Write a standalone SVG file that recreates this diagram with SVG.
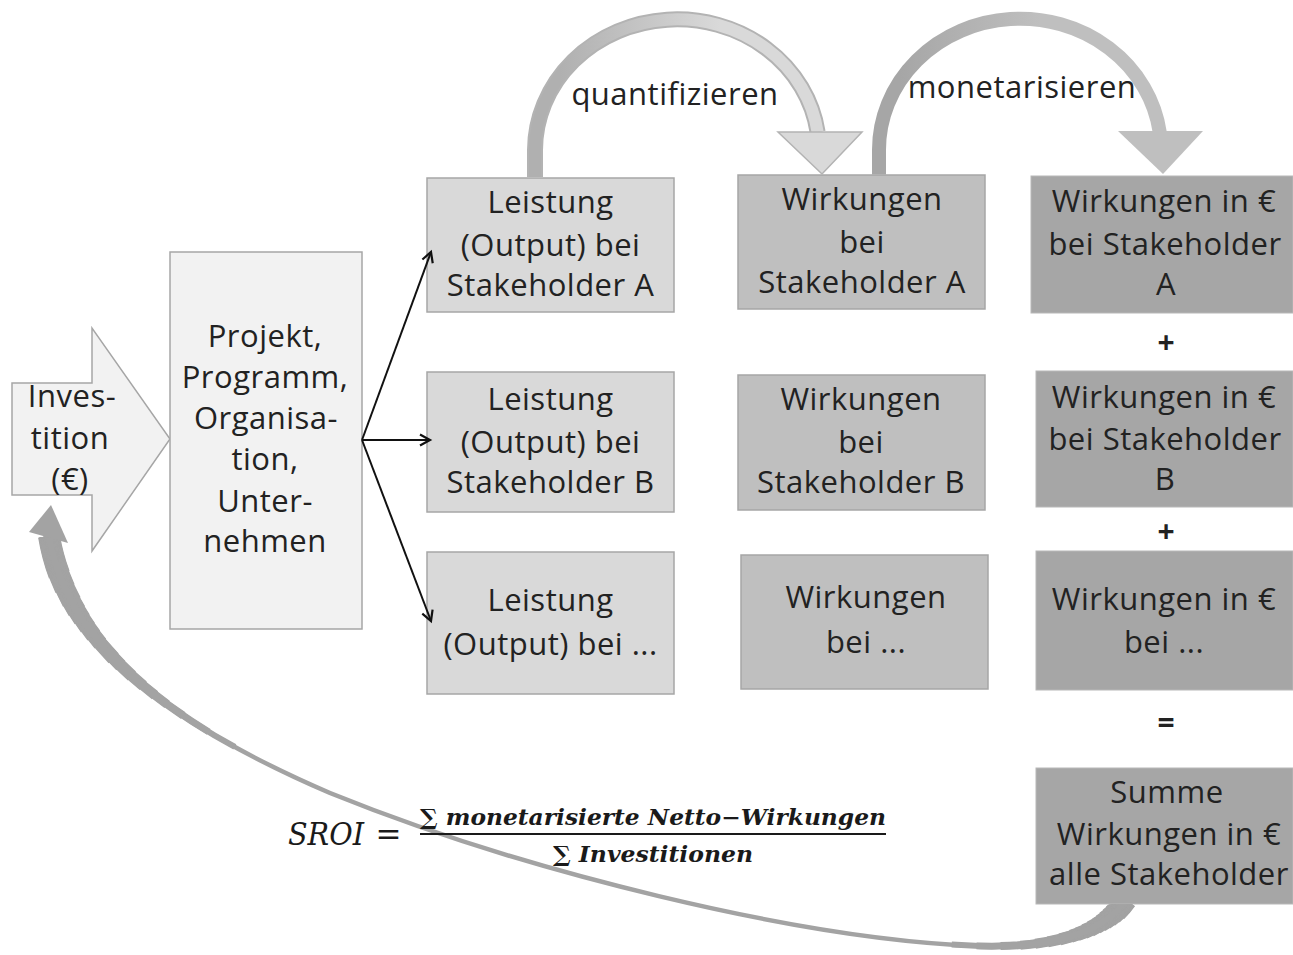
<svg xmlns="http://www.w3.org/2000/svg" width="1293" height="955" viewBox="0 0 1293 955">
<defs>
<style>
.t{font-family:"Open Sans","Noto Sans","DejaVu Sans",sans-serif;font-size:31px;letter-spacing:0.5px;fill:#222;text-anchor:middle}
.op{font-family:"Open Sans","Noto Sans",sans-serif;font-size:30px;font-weight:bold;fill:#222;text-anchor:middle}
.f{font-family:"DejaVu Serif","Liberation Serif",serif;font-style:italic;fill:#1a1a1a}
.lst{fill:#d9d9d9;stroke:#a6a6a6;stroke-width:1.5}
.wrk{fill:#bfbfbf;stroke:#a6a6a6;stroke-width:1.5}
.eur{fill:#a6a6a6;stroke:#b8b8b8;stroke-width:1}
.blk{fill:none;stroke:#111;stroke-width:2;marker-end:url(#ah)}
.ret{fill:none;stroke:#a3a3a3}
</style>
<marker id="ah" markerUnits="userSpaceOnUse" viewBox="0 0 14 14" markerWidth="14" markerHeight="14" refX="12" refY="7" orient="auto" overflow="visible">
<path d="M2,1.5 L12,7 L2,12.5" fill="none" stroke="#111" stroke-width="2.2"/>
</marker>
<linearGradient id="gq" gradientUnits="userSpaceOnUse" x1="560" y1="0" x2="720" y2="0">
<stop offset="0" stop-color="#b0b0b0"/><stop offset="1" stop-color="#d9d9d9"/>
</linearGradient>
<linearGradient id="gm" gradientUnits="userSpaceOnUse" x1="900" y1="0" x2="1040" y2="0">
<stop offset="0" stop-color="#a6a6a6"/><stop offset="1" stop-color="#bfbfbf"/>
</linearGradient>
<clipPath id="noSumme">
<path clip-rule="evenodd" d="M0,0H1293V955H0Z M1036,768H1293V904.5H1036Z"/>
</clipPath>
</defs>
<rect width="1293" height="955" fill="#fff"/>

<g id="node-investition">
<polygon points="12,383 92,383 92,328 170,439 92,551 92,495 12,495" fill="#f2f2f2" stroke="#a6a6a6" stroke-width="1.5"/>
<text class="t" x="72" y="407">Inves-</text>
<text class="t" x="70" y="449">tition</text>
<text class="t" x="70" y="490">(€)</text>
</g>

<g id="node-projekt">
<rect x="170" y="252" width="192" height="377" fill="#f2f2f2" stroke="#a6a6a6" stroke-width="1.5"/>
<text class="t" x="265" y="347">Projekt,</text>
<text class="t" x="265" y="388">Programm,</text>
<text class="t" x="266" y="429">Organisa-</text>
<text class="t" x="265" y="470">tion,</text>
<text class="t" x="265" y="512">Unter-</text>
<text class="t" x="265" y="552">nehmen</text>
</g>

<g id="node-leistung-a">
<rect class="lst" x="427" y="178" width="247" height="134"/>
<text class="t" x="550.5" y="213">Leistung</text>
<text class="t" x="550.5" y="256">(Output) bei</text>
<text class="t" x="550.5" y="296">Stakeholder A</text>
</g>
<g id="node-leistung-b">
<rect class="lst" x="427" y="372" width="247" height="140"/>
<text class="t" x="550.5" y="410">Leistung</text>
<text class="t" x="550.5" y="453">(Output) bei</text>
<text class="t" x="550.5" y="493">Stakeholder B</text>
</g>
<g id="node-leistung-n">
<rect class="lst" x="427" y="552" width="247" height="142"/>
<text class="t" x="550.5" y="611">Leistung</text>
<text class="t" x="550.5" y="655">(Output) bei ...</text>
</g>

<g id="node-wirkungen-a">
<rect class="wrk" x="738" y="175" width="247" height="134"/>
<text class="t" x="862" y="210">Wirkungen</text>
<text class="t" x="862" y="253">bei</text>
<text class="t" x="862" y="293">Stakeholder A</text>
</g>
<g id="node-wirkungen-b">
<rect class="wrk" x="738" y="375" width="247" height="135"/>
<text class="t" x="861" y="410">Wirkungen</text>
<text class="t" x="861" y="453">bei</text>
<text class="t" x="861" y="493">Stakeholder B</text>
</g>
<g id="node-wirkungen-n">
<rect class="wrk" x="741" y="555" width="247" height="134"/>
<text class="t" x="866" y="608">Wirkungen</text>
<text class="t" x="866" y="653">bei ...</text>
</g>

<g id="node-euro-a">
<rect class="eur" x="1031" y="176" width="262" height="137"/>
<text class="t" x="1164" y="212">Wirkungen in €</text>
<text class="t" x="1165" y="255">bei Stakeholder</text>
<text class="t" x="1166" y="295">A</text>
</g>
<g id="op-plus-1"><text class="op" x="1166" y="353">+</text></g>
<g id="node-euro-b">
<rect class="eur" x="1036" y="371" width="257" height="136"/>
<text class="t" x="1164" y="408">Wirkungen in €</text>
<text class="t" x="1165" y="450">bei Stakeholder</text>
<text class="t" x="1165" y="490">B</text>
</g>
<g id="op-plus-2"><text class="op" x="1166" y="542">+</text></g>
<g id="node-euro-n">
<rect class="eur" x="1036" y="551" width="257" height="139"/>
<text class="t" x="1164" y="610">Wirkungen in €</text>
<text class="t" x="1164" y="653">bei ...</text>
</g>
<g id="op-equals"><text class="op" x="1166" y="733">=</text></g>
<g id="node-summe">
<rect class="eur" x="1036" y="768" width="257" height="136"/>
<text class="t" x="1167" y="803">Summe</text>
<text class="t" x="1169" y="845">Wirkungen in €</text>
<text class="t" x="1169" y="885">alle Stakeholder</text>
</g>

<g id="connectors">
<g id="return-arrow" clip-path="url(#noSumme)">
<path class="ret" stroke-width="4.5" d="M 50,541 C 66,640 160,720 330,793 C 520,870 800,940 980,946 C 1060,948 1105,930 1126,900"/>
<g class="ret">
<path pathLength="1000" d="M 49,536 C 66,640 160,720 330,793" stroke-width="22" stroke-dasharray="101 5000"/>
<path pathLength="1000" d="M 49,536 C 66,640 160,720 330,793" stroke-width="21" stroke-dasharray="139 5000"/>
<path pathLength="1000" d="M 49,536 C 66,640 160,720 330,793" stroke-width="20" stroke-dasharray="177 5000"/>
<path pathLength="1000" d="M 49,536 C 66,640 160,720 330,793" stroke-width="19" stroke-dasharray="203 5000"/>
<path pathLength="1000" d="M 49,536 C 66,640 160,720 330,793" stroke-width="18" stroke-dasharray="228 5000"/>
<path pathLength="1000" d="M 49,536 C 66,640 160,720 330,793" stroke-width="17" stroke-dasharray="253 5000"/>
<path pathLength="1000" d="M 49,536 C 66,640 160,720 330,793" stroke-width="16" stroke-dasharray="278 5000"/>
<path pathLength="1000" d="M 49,536 C 66,640 160,720 330,793" stroke-width="15" stroke-dasharray="304 5000"/>
<path pathLength="1000" d="M 49,536 C 66,640 160,720 330,793" stroke-width="14" stroke-dasharray="354 5000"/>
<path pathLength="1000" d="M 49,536 C 66,640 160,720 330,793" stroke-width="13" stroke-dasharray="380 5000"/>
<path pathLength="1000" d="M 49,536 C 66,640 160,720 330,793" stroke-width="12" stroke-dasharray="418 5000"/>
<path pathLength="1000" d="M 49,536 C 66,640 160,720 330,793" stroke-width="11" stroke-dasharray="456 5000"/>
<path pathLength="1000" d="M 49,536 C 66,640 160,720 330,793" stroke-width="10" stroke-dasharray="494 5000"/>
<path pathLength="1000" d="M 49,536 C 66,640 160,720 330,793" stroke-width="9" stroke-dasharray="532 5000"/>
<path pathLength="1000" d="M 49,536 C 66,640 160,720 330,793" stroke-width="8" stroke-dasharray="582 5000"/>
<path pathLength="1000" d="M 49,536 C 66,640 160,720 330,793" stroke-width="7" stroke-dasharray="658 5000"/>
<path pathLength="1000" d="M 49,536 C 66,640 160,720 330,793" stroke-width="6" stroke-dasharray="734 5000"/>
<path pathLength="1000" d="M 1126,900 C 1105,930 1060,948 980,946 C 800,940 520,870 330,793" stroke-width="22" stroke-dasharray="18 5000"/>
<path pathLength="1000" d="M 1126,900 C 1105,930 1060,948 980,946 C 800,940 520,870 330,793" stroke-width="21" stroke-dasharray="24 5000"/>
<path pathLength="1000" d="M 1126,900 C 1105,930 1060,948 980,946 C 800,940 520,870 330,793" stroke-width="20" stroke-dasharray="30 5000"/>
<path pathLength="1000" d="M 1126,900 C 1105,930 1060,948 980,946 C 800,940 520,870 330,793" stroke-width="19" stroke-dasharray="36 5000"/>
<path pathLength="1000" d="M 1126,900 C 1105,930 1060,948 980,946 C 800,940 520,870 330,793" stroke-width="18" stroke-dasharray="42 5000"/>
<path pathLength="1000" d="M 1126,900 C 1105,930 1060,948 980,946 C 800,940 520,870 330,793" stroke-width="17" stroke-dasharray="48 5000"/>
<path pathLength="1000" d="M 1126,900 C 1105,930 1060,948 980,946 C 800,940 520,870 330,793" stroke-width="16" stroke-dasharray="56 5000"/>
<path pathLength="1000" d="M 1126,900 C 1105,930 1060,948 980,946 C 800,940 520,870 330,793" stroke-width="15" stroke-dasharray="64 5000"/>
<path pathLength="1000" d="M 1126,900 C 1105,930 1060,948 980,946 C 800,940 520,870 330,793" stroke-width="14" stroke-dasharray="73 5000"/>
<path pathLength="1000" d="M 1126,900 C 1105,930 1060,948 980,946 C 800,940 520,870 330,793" stroke-width="13" stroke-dasharray="81 5000"/>
<path pathLength="1000" d="M 1126,900 C 1105,930 1060,948 980,946 C 800,940 520,870 330,793" stroke-width="12" stroke-dasharray="95 5000"/>
<path pathLength="1000" d="M 1126,900 C 1105,930 1060,948 980,946 C 800,940 520,870 330,793" stroke-width="11" stroke-dasharray="110 5000"/>
<path pathLength="1000" d="M 1126,900 C 1105,930 1060,948 980,946 C 800,940 520,870 330,793" stroke-width="10" stroke-dasharray="125 5000"/>
<path pathLength="1000" d="M 1126,900 C 1105,930 1060,948 980,946 C 800,940 520,870 330,793" stroke-width="9" stroke-dasharray="143 5000"/>
<path pathLength="1000" d="M 1126,900 C 1105,930 1060,948 980,946 C 800,940 520,870 330,793" stroke-width="8" stroke-dasharray="167 5000"/>
<path pathLength="1000" d="M 1126,900 C 1105,930 1060,948 980,946 C 800,940 520,870 330,793" stroke-width="7" stroke-dasharray="196 5000"/>
<path pathLength="1000" d="M 1126,900 C 1105,930 1060,948 980,946 C 800,940 520,870 330,793" stroke-width="6" stroke-dasharray="226 5000"/>
</g>
<polygon points="51,505 29,532 68,543" fill="#a3a3a3"/>
</g>

<g id="arrow-quantifizieren">
<path d="M 535,177 L 535,150 A 142 131 0 0 1 817.6,132" fill="none" stroke="#b3b3b3" stroke-width="16"/>
<path d="M 535,177 L 535,150 A 142 131 0 0 1 817.6,132" fill="none" stroke="url(#gq)" stroke-width="12"/>
<polygon points="778,132 862,132 822,174" fill="#d9d9d9" stroke="#b3b3b3" stroke-width="1.5"/>
<text class="t" x="675" y="105">quantifizieren</text>
</g>

<g id="arrow-monetarisieren">
<path d="M 879,174.5 L 879,150 A 141 131 0 0 1 1159.7,132" fill="none" stroke="url(#gm)" stroke-width="14"/>
<polygon points="1118,131 1203,131 1163,174" fill="#bfbfbf"/>
<text class="t" x="1022" y="98">monetarisieren</text>
</g>

<line class="blk" x1="362" y1="440" x2="431" y2="252"/>
<line class="blk" x1="362" y1="440" x2="430" y2="440"/>
<line class="blk" x1="362" y1="440" x2="431" y2="621"/>
</g>

<g id="formula">
<text class="f" x="288" y="845" font-size="31" textLength="76" lengthAdjust="spacingAndGlyphs">SROI</text>
<text class="f" x="388.5" y="845" font-size="31" font-style="normal" text-anchor="middle">=</text>
<text class="f" x="420" y="825" font-size="22" font-weight="bold" textLength="466" lengthAdjust="spacingAndGlyphs">∑ monetarisierte Netto−Wirkungen</text>
<line x1="420" y1="834" x2="886" y2="834" stroke="#1a1a1a" stroke-width="2"/>
<text class="f" x="553" y="862" font-size="22" font-weight="bold" textLength="200" lengthAdjust="spacingAndGlyphs">∑ Investitionen</text>
</g>
</svg>
